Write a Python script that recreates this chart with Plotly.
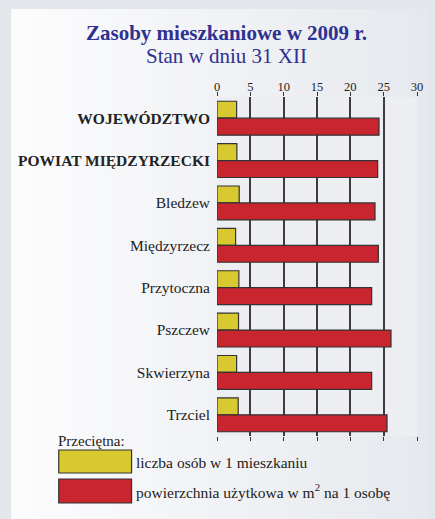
import plotly.graph_objects as go

# dane
categories = ["WOJEWÓDZTWO", "POWIAT MIĘDZYRZECKI", "Bledzew", "Międzyrzecz",
              "Przytoczna", "Pszczew", "Skwierzyna", "Trzciel"]
osoby_na_mieszkanie = [2.94, 2.98, 3.33, 2.79, 3.28, 3.23, 2.94, 3.18]
pow_na_osobe = [24.3, 24.1, 23.7, 24.2, 23.2, 26.1, 23.2, 25.5]
tick_vals = [0, 5, 10, 15, 20, 25, 30]
tick_labels = ["<b>WOJEWÓDZTWO</b>", "<b>POWIAT MIĘDZYRZECKI</b>", "Bledzew", "Międzyrzecz",
               "Przytoczna", "Pszczew", "Skwierzyna", "Trzciel"]

W, H = 435, 519
L, R, T, B = 217, 12, 97, 83
pw, ph = W - L - R, H - T - B


def px(x):
    return (x - L) / pw


def py(y):
    return 1 - (y - T) / ph


FONT = "Liberation Serif"
YELLOW = "#d8c930"
RED = "#c9252f"

fig = go.Figure()
fig.add_trace(go.Bar(y=categories, x=osoby_na_mieszkanie, orientation="h",
                     marker=dict(color=YELLOW, line=dict(color="#333333", width=1.2)),
                     name="liczba osób w 1 mieszkaniu"))
fig.add_trace(go.Bar(y=categories, x=pow_na_osobe, orientation="h",
                     marker=dict(color=RED, line=dict(color="#333333", width=1.2)),
                     name="powierzchnia użytkowa"))

shapes = []
# tlo panelu z gradientem (poza obszarem wykresu)
c0 = (252, 252, 253)
c1 = (229, 232, 237)


def grad(x):
    f = (x - 5) / (W - 5)
    return "rgb(%d,%d,%d)" % tuple(round(c0[k] + (c1[k] - c0[k]) * f) for k in range(3))


n = 40
for i in range(n):
    x0 = 5 + (W - 5) * i / n
    x1 = x0 + (W - 5) / n + 0.6
    for (ya, yb) in [(9, T), (H - B, H)]:
        shapes.append(dict(type="rect", xref="paper", yref="paper", x0=px(x0), x1=px(x1),
                           y0=py(ya), y1=py(yb), fillcolor=grad(x0), line_width=0, layer="below"))
    if x0 < L:
        shapes.append(dict(type="rect", xref="paper", yref="paper", x0=px(x0), x1=px(min(x1, L)),
                           y0=py(T), y1=py(H - B), fillcolor=grad(x0), line_width=0, layer="below"))
    if x1 > W - R:
        shapes.append(dict(type="rect", xref="paper", yref="paper", x0=px(max(x0, W - R)), x1=px(x1),
                           y0=py(T), y1=py(H - B), fillcolor=grad(x0), line_width=0, layer="below"))

# legenda
shapes.append(dict(type="rect", xref="paper", yref="paper", x0=px(54), x1=px(129), y0=py(450), y1=py(473),
                   fillcolor=YELLOW, line=dict(color="#333333", width=1.2)))
shapes.append(dict(type="rect", xref="paper", yref="paper", x0=px(54), x1=px(129), y0=py(479), y1=py(503),
                   fillcolor=RED, line=dict(color="#333333", width=1.2)))


def note(text, x, y, size, anchor="left", color="#222"):
    return dict(text=text, x=px(x), y=py(y), xref="paper", yref="paper", xanchor=anchor,
                yanchor="middle", showarrow=False, font=dict(family=FONT, size=size, color=color))


annotations = [
    note("<b>Zasoby mieszkaniowe w 2009 r.</b>", 227, 33, 21, "center", "#2e3192"),
    note("Stan w dniu 31 XII", 227, 56, 21, "center", "#2e3192"),
    note("Przeciętna:", 51, 441, 15),
    note("liczba osób w 1 mieszkaniu", 132, 462, 15.5),
    note("powierzchnia użytkowa w m<sup>2</sup> na 1 osobę", 132, 491, 15.5),
]

fig.update_layout(
    width=W, height=H,
    margin=dict(l=L, r=R, t=T, b=B),
    paper_bgcolor="#e3e7ec", plot_bgcolor="rgb(236,238,242)",
    barmode="group", bargap=0.2, bargroupgap=0,
    showlegend=False,
    shapes=shapes, annotations=annotations,
    font=dict(family=FONT, color="#222"),
)
fig.update_xaxes(range=[0, 30], tickvals=tick_vals, side="top", ticks="outside", ticklen=4,
                 tickcolor="#333", mirror="ticks", showgrid=True, gridcolor="#3d3d3d", gridwidth=1.5,
                 zeroline=False, ticklabelstandoff=-4,
                 tickfont=dict(family=FONT, size=12.5, color="#222"), fixedrange=True)
fig.update_yaxes(categoryorder="array", categoryarray=categories, autorange="reversed",
                 tickvals=categories, ticktext=tick_labels, ticks="", showgrid=False, zeroline=False,
                 ticklabelstandoff=6, tickfont=dict(family=FONT, size=15.5, color="#222"), fixedrange=True)

fig.write_html("out.html", config={"displayModeBar": False},
               post_script="document.body.style.margin='0';")
